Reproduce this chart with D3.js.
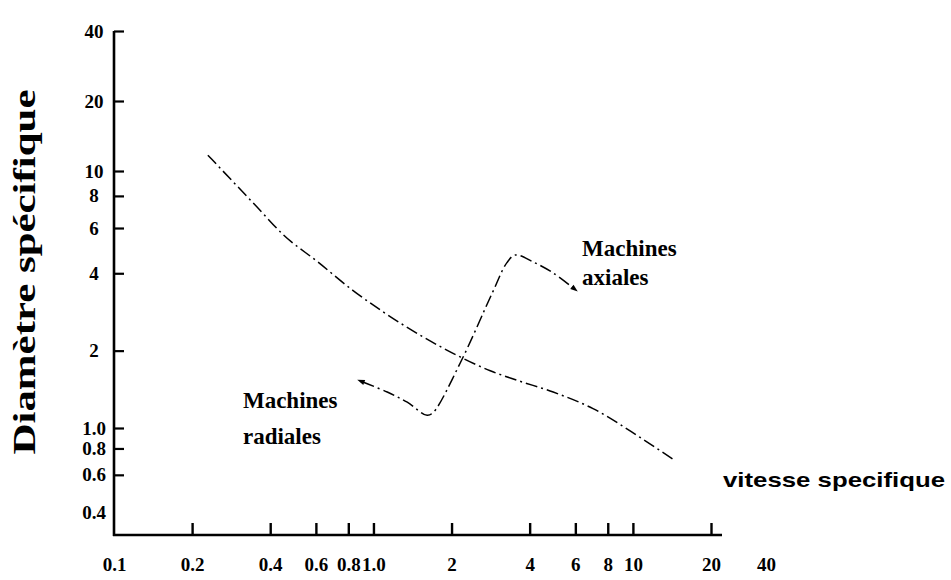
<!DOCTYPE html>
<html>
<head>
<meta charset="utf-8">
<script src="https://cdn.jsdelivr.net/npm/d3@7/dist/d3.min.js"></script>
<style>
  html, body { margin: 0; padding: 0; background: #fff; }
  svg { display: block; }
</style>
</head>
<body>
<div id="chart"></div>
<script>
// ---------- data ----------
const xTickValues = [0.2, 0.4, 0.6, 0.8, 1, 2, 4, 6, 8, 10, 20];
const xLabelValues = [0.1, 0.2, 0.4, 0.6, 0.8, 1, 2, 4, 6, 8, 10, 20, 40];
const xLabelTexts = ["0.1", "0.2", "0.4", "0.6", "0.8", "1.0", "2", "4", "6", "8", "10", "20", "40"];
const yTickValues = [0.6, 0.8, 1, 2, 4, 6, 8, 10, 20, 40];
const yLabelValues = [0.4, 0.6, 0.8, 1, 2, 4, 6, 8, 10, 20, 40];
const yLabelTexts = ["0.4", "0.6", "0.8", "1.0", "2", "4", "6", "8", "10", "20", "40"];

// main curve (vitesse spécifique, diamètre spécifique)
const mainX = [0.23, 0.35, 0.45, 0.61, 0.83, 1.09, 1.51, 2.16, 2.82, 3.6, 4.93, 7.02, 10.7, 14.3];
const mainY = [11.7, 7.37, 5.64, 4.43, 3.44, 2.83, 2.30, 1.89, 1.67, 1.53, 1.38, 1.19, 0.90, 0.71];

// transition curve between radial and axial machines
const transX = [0.91, 1.13, 1.35, 1.61, 1.70, 2.16, 2.87, 3.27, 3.52, 4.12, 4.93, 5.88];
const transY = [1.51, 1.38, 1.26, 1.12, 1.15, 1.79, 3.35, 4.40, 4.71, 4.43, 4.01, 3.51];

const annotRadial = ["Machines", "radiales"];
const annotRadialAt = [0.314, 1.2];
const annotAxial = ["Machines", "axiales"];
const annotAxialAt = [6.37, 4.67];

const xTitle = "vitesse specifique";
const yTitle = "Diamètre spécifique";

// ---------- layout ----------
const W = 951, H = 580;
const axisX = 114, axisY = 535;

const svg = d3.select("#chart").append("svg")
  .attr("width", W).attr("height", H);

const x = d3.scaleLog().domain([0.1, 20, 40]).range([axisX, 711, 766]);
const y = d3.scaleLog().domain([0.4, 1, 10, 40]).range([512, 428, 171, 31]);

const serif = "'Liberation Serif', 'DejaVu Serif', serif";
const sans = "'Liberation Sans', Arial, sans-serif";

svg.append("defs").append("marker")
  .attr("id", "arrow")
  .attr("viewBox", "0 0 10 10")
  .attr("refX", 2).attr("refY", 5)
  .attr("markerWidth", 8).attr("markerHeight", 5)
  .attr("markerUnits", "strokeWidth")
  .attr("orient", "auto-start-reverse")
  .append("path").attr("d", "M0,1.5 L10,5 L0,8.5 Z").attr("fill", "#000");

// ---------- axes ----------
svg.append("line")
  .attr("x1", axisX).attr("x2", axisX)
  .attr("y1", y(40)).attr("y2", axisY + 1)
  .attr("stroke", "#000").attr("stroke-width", 2.6);
svg.append("line")
  .attr("x1", axisX - 1).attr("x2", x(20) + 11)
  .attr("y1", axisY).attr("y2", axisY)
  .attr("stroke", "#000").attr("stroke-width", 2.4);

const yAxis = d3.axisRight(y)
  .tickValues(yLabelValues)
  .tickSize(10)
  .tickFormat((d, i) => yLabelTexts[i]);
const gy = svg.append("g").attr("transform", `translate(${axisX},0)`).call(yAxis);
gy.select(".domain").remove();
gy.selectAll(".tick line")
  .attr("stroke", "#000").attr("stroke-width", 2.2)
  .attr("display", d => yTickValues.includes(d) ? null : "none");
gy.selectAll(".tick text")
  .attr("x", -20).attr("text-anchor", "middle")
  .style("font-family", serif).style("font-weight", "bold")
  .style("font-size", "19px").attr("fill", "#000");

const xAxis = d3.axisBottom(x)
  .tickValues(xLabelValues)
  .tickSize(-12)
  .tickPadding(23)
  .tickFormat((d, i) => xLabelTexts[i]);
const gx = svg.append("g").attr("transform", `translate(0,${axisY})`).call(xAxis);
gx.select(".domain").remove();
gx.selectAll(".tick line")
  .attr("stroke", "#000").attr("stroke-width", 2.4)
  .attr("display", d => xTickValues.includes(d) ? null : "none");
gx.selectAll(".tick text")
  .style("font-family", serif).style("font-weight", "bold")
  .style("font-size", "19px").attr("fill", "#000");

// ---------- titles ----------
svg.append("text")
  .attr("transform", "translate(35,272) rotate(-90)")
  .attr("text-anchor", "middle")
  .attr("font-family", serif).attr("font-weight", "bold")
  .attr("font-size", 31)
  .attr("textLength", 365).attr("lengthAdjust", "spacingAndGlyphs")
  .text(yTitle);

svg.append("text")
  .attr("x", 723).attr("y", 487)
  .attr("font-family", sans).attr("font-weight", "bold")
  .attr("font-size", 21)
  .attr("textLength", 222).attr("lengthAdjust", "spacingAndGlyphs")
  .text(xTitle);

// ---------- curves ----------
const smooth = d3.line().x(d => x(d[0])).y(d => y(d[1])).curve(d3.curveMonotoneX);

svg.append("path")
  .datum(mainX.map((v, i) => [v, mainY[i]]))
  .attr("d", smooth)
  .attr("fill", "none").attr("stroke", "#000")
  .attr("stroke-width", 1.5)
  .attr("stroke-dasharray", "12,4,2,4");

svg.append("path")
  .datum(transX.map((v, i) => [v, transY[i]]))
  .attr("d", d3.line().x(d => x(d[0])).y(d => y(d[1])).curve(d3.curveCatmullRom.alpha(0.5)))
  .attr("fill", "none").attr("stroke", "#000")
  .attr("stroke-width", 1.5)
  .attr("stroke-dasharray", "12,4,2,4")
  .attr("marker-start", "url(#arrow)")
  .attr("marker-end", "url(#arrow)");

// ---------- annotations ----------
function annot(lines, at, gap) {
  const t = svg.append("text")
    .attr("font-family", serif).attr("font-weight", "bold")
    .attr("font-size", 23).attr("fill", "#000");
  lines.forEach((s, i) => {
    t.append("tspan")
      .attr("x", x(at[0]))
      .attr("y", y(at[1]) + i * gap)
      .text(s);
  });
}
annot(annotRadial, annotRadialAt, 36);
annot(annotAxial, annotAxialAt, 29);
</script>
</body>
</html>
